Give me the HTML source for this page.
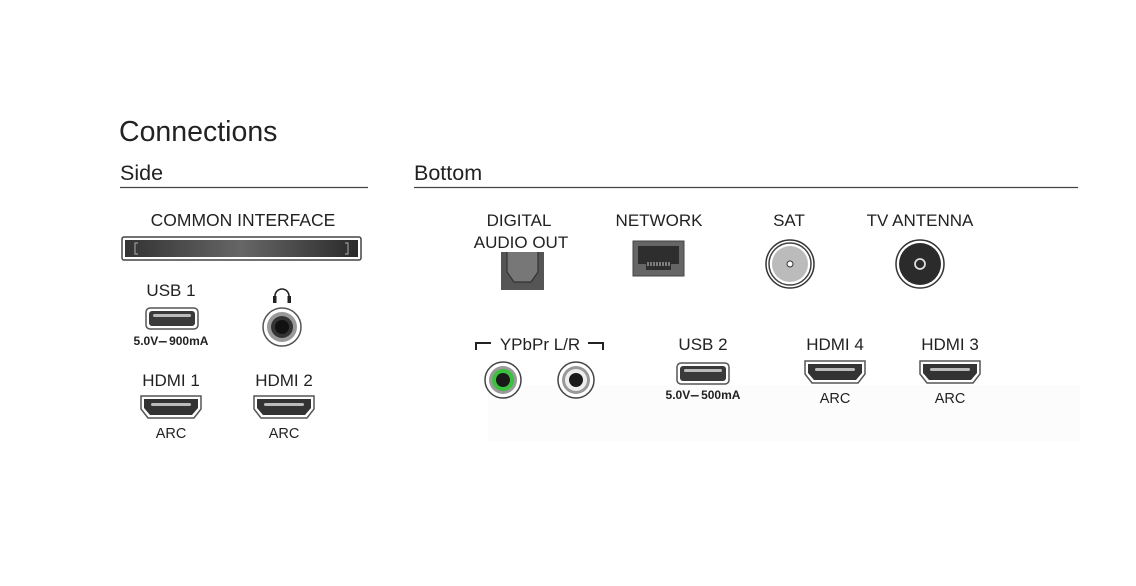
<!DOCTYPE html>
<html><head><meta charset="utf-8"><style>
html,body{margin:0;padding:0;background:#fff;}
svg{display:block;}
text{font-family:"Liberation Sans",sans-serif;fill:#222;}
</style></head><body>
<svg width="1136" height="586" viewBox="0 0 1136 586" xmlns="http://www.w3.org/2000/svg">
<defs>
<linearGradient id="slot" x1="0" y1="0" x2="1" y2="0">
<stop offset="0" stop-color="#333"/><stop offset="0.5" stop-color="#666"/><stop offset="1" stop-color="#2a2a2a"/></linearGradient>
<symbol id="hdmi" viewBox="0 0 64 26">
<path d="M2 2 H62 V15 L55 24 H9 L2 15 Z" fill="#fff" stroke="#555" stroke-width="1.5"/>
<path d="M5 5 H59 V14 L53 21 H11 L5 14 Z" fill="#333"/>
<rect x="12" y="9" width="40" height="3" rx="1.5" fill="#bbb"/>
</symbol>
<symbol id="usb" viewBox="0 0 54 23">
<rect x="1" y="1" width="52" height="21" rx="4" fill="#fff" stroke="#555" stroke-width="1.5"/>
<rect x="4" y="4" width="46" height="15" rx="3" fill="#3a3a3a"/>
<rect x="8" y="7" width="38" height="3" rx="1.5" fill="#bbb"/>
</symbol>
</defs>

<rect x="488" y="385" width="592" height="56" fill="#fcfcfc"/>

<text x="119" y="141" font-size="28.5" fill="#333">Connections</text>
<text x="120" y="180" font-size="21.5" fill="#333">Side</text>
<line x1="120" y1="187.5" x2="368" y2="187.5" stroke="#444" stroke-width="1.2"/>
<text x="414" y="180" font-size="21.5" fill="#333">Bottom</text>
<line x1="414" y1="187.5" x2="1078" y2="187.5" stroke="#444" stroke-width="1.2"/>

<!-- Side -->
<text x="243" y="226" font-size="17.5" text-anchor="middle">COMMON INTERFACE</text>
<rect x="122" y="237" width="239" height="23" rx="2" fill="#fff" stroke="#444" stroke-width="1.5"/>
<rect x="125" y="240" width="233" height="17" fill="url(#slot)"/>
<path d="M138 243 h-3 v11 h3 M345 243 h3 v11 h-3" stroke="#999" fill="none" stroke-width="1.2"/>

<text x="171" y="296" font-size="17" text-anchor="middle">USB 1</text>
<use href="#usb" x="145" y="307" width="54" height="23"/>
<text x="171" y="345" font-size="12" font-weight="bold" text-anchor="middle">5.0V<tspan letter-spacing="-1.5">---</tspan> 900mA</text>

<path d="M275 301 v-5 a7 7 0 0 1 14 0 v5" fill="none" stroke="#222" stroke-width="1.6"/>
<rect x="273" y="296" width="3.5" height="7" fill="#222"/><rect x="287.5" y="296" width="3.5" height="7" fill="#222"/>
<circle cx="282" cy="327" r="19" fill="#fff" stroke="#555" stroke-width="1.5"/>
<circle cx="282" cy="327" r="15" fill="#999"/>
<circle cx="282" cy="327" r="11" fill="#333"/>
<circle cx="282" cy="327" r="7" fill="#111"/>

<text x="171" y="386" font-size="17" text-anchor="middle">HDMI 1</text>
<use href="#hdmi" x="139" y="394" width="64" height="26"/>
<text x="171" y="438" font-size="14.5" text-anchor="middle">ARC</text>
<text x="284" y="386" font-size="17" text-anchor="middle">HDMI 2</text>
<use href="#hdmi" x="252" y="394" width="64" height="26"/>
<text x="284" y="438" font-size="14.5" text-anchor="middle">ARC</text>

<!-- Bottom row 1 -->
<text x="519" y="226" font-size="17" text-anchor="middle">DIGITAL</text>
<text x="521" y="248" font-size="17" text-anchor="middle">AUDIO OUT</text>
<rect x="501" y="252" width="43" height="38" fill="#555"/>
<path d="M507 252 V272 L514 282 H531 L538 272 V252" fill="#777" stroke="#333" stroke-width="1.2"/>

<text x="659" y="226" font-size="17" text-anchor="middle">NETWORK</text>
<rect x="633" y="241" width="51" height="35" fill="#666" stroke="#444"/>
<path d="M638 246 H679 V264 H671 V270 H646 V264 H638 Z" fill="#2e2e2e"/>
<path d="M648 262 v4 M651 262 v4 M654 262 v4 M657 262 v4 M660 262 v4 M663 262 v4 M666 262 v4 M669 262 v4" stroke="#ccc" stroke-width="1"/>

<text x="789" y="226" font-size="17" text-anchor="middle">SAT</text>
<circle cx="790" cy="264" r="24" fill="#fff" stroke="#333" stroke-width="1.5"/>
<circle cx="790" cy="264" r="21" fill="none" stroke="#444" stroke-width="1.5"/>
<circle cx="790" cy="264" r="18" fill="#bbb"/>
<circle cx="790" cy="264" r="3" fill="#fff" stroke="#333"/>

<text x="920" y="226" font-size="17" text-anchor="middle">TV ANTENNA</text>
<circle cx="920" cy="264" r="24" fill="#fff" stroke="#333" stroke-width="1.5"/>
<circle cx="920" cy="264" r="21" fill="#2b2b2b"/>
<circle cx="920" cy="264" r="5" fill="none" stroke="#ddd" stroke-width="1.8"/>

<!-- Bottom row 2 -->
<text x="540" y="350" font-size="17" text-anchor="middle">YPbPr L/R</text>
<path d="M476 350 v-7 h15 M603 350 v-7 h-15" fill="none" stroke="#222" stroke-width="2"/>
<circle cx="503" cy="380" r="18" fill="#fff" stroke="#444" stroke-width="1.5"/>
<circle cx="503" cy="380" r="14" fill="#9a9a9a"/>
<circle cx="503" cy="380" r="11" fill="#3cc13c"/>
<circle cx="503" cy="380" r="7" fill="#1a1a1a"/>
<circle cx="576" cy="380" r="18" fill="#fff" stroke="#444" stroke-width="1.5"/>
<circle cx="576" cy="380" r="14" fill="#999"/>
<circle cx="576" cy="380" r="11" fill="#eee"/>
<circle cx="576" cy="380" r="7" fill="#1a1a1a"/>

<text x="703" y="350" font-size="17" text-anchor="middle">USB 2</text>
<use href="#usb" x="676" y="362" width="54" height="23"/>
<text x="703" y="399" font-size="12" font-weight="bold" text-anchor="middle">5.0V<tspan letter-spacing="-1.5">---</tspan> 500mA</text>

<text x="835" y="350" font-size="17" text-anchor="middle">HDMI 4</text>
<use href="#hdmi" x="803" y="359" width="64" height="26"/>
<text x="835" y="403" font-size="14.5" text-anchor="middle">ARC</text>
<text x="950" y="350" font-size="17" text-anchor="middle">HDMI 3</text>
<use href="#hdmi" x="918" y="359" width="64" height="26"/>
<text x="950" y="403" font-size="14.5" text-anchor="middle">ARC</text>
</svg>
</body></html>
